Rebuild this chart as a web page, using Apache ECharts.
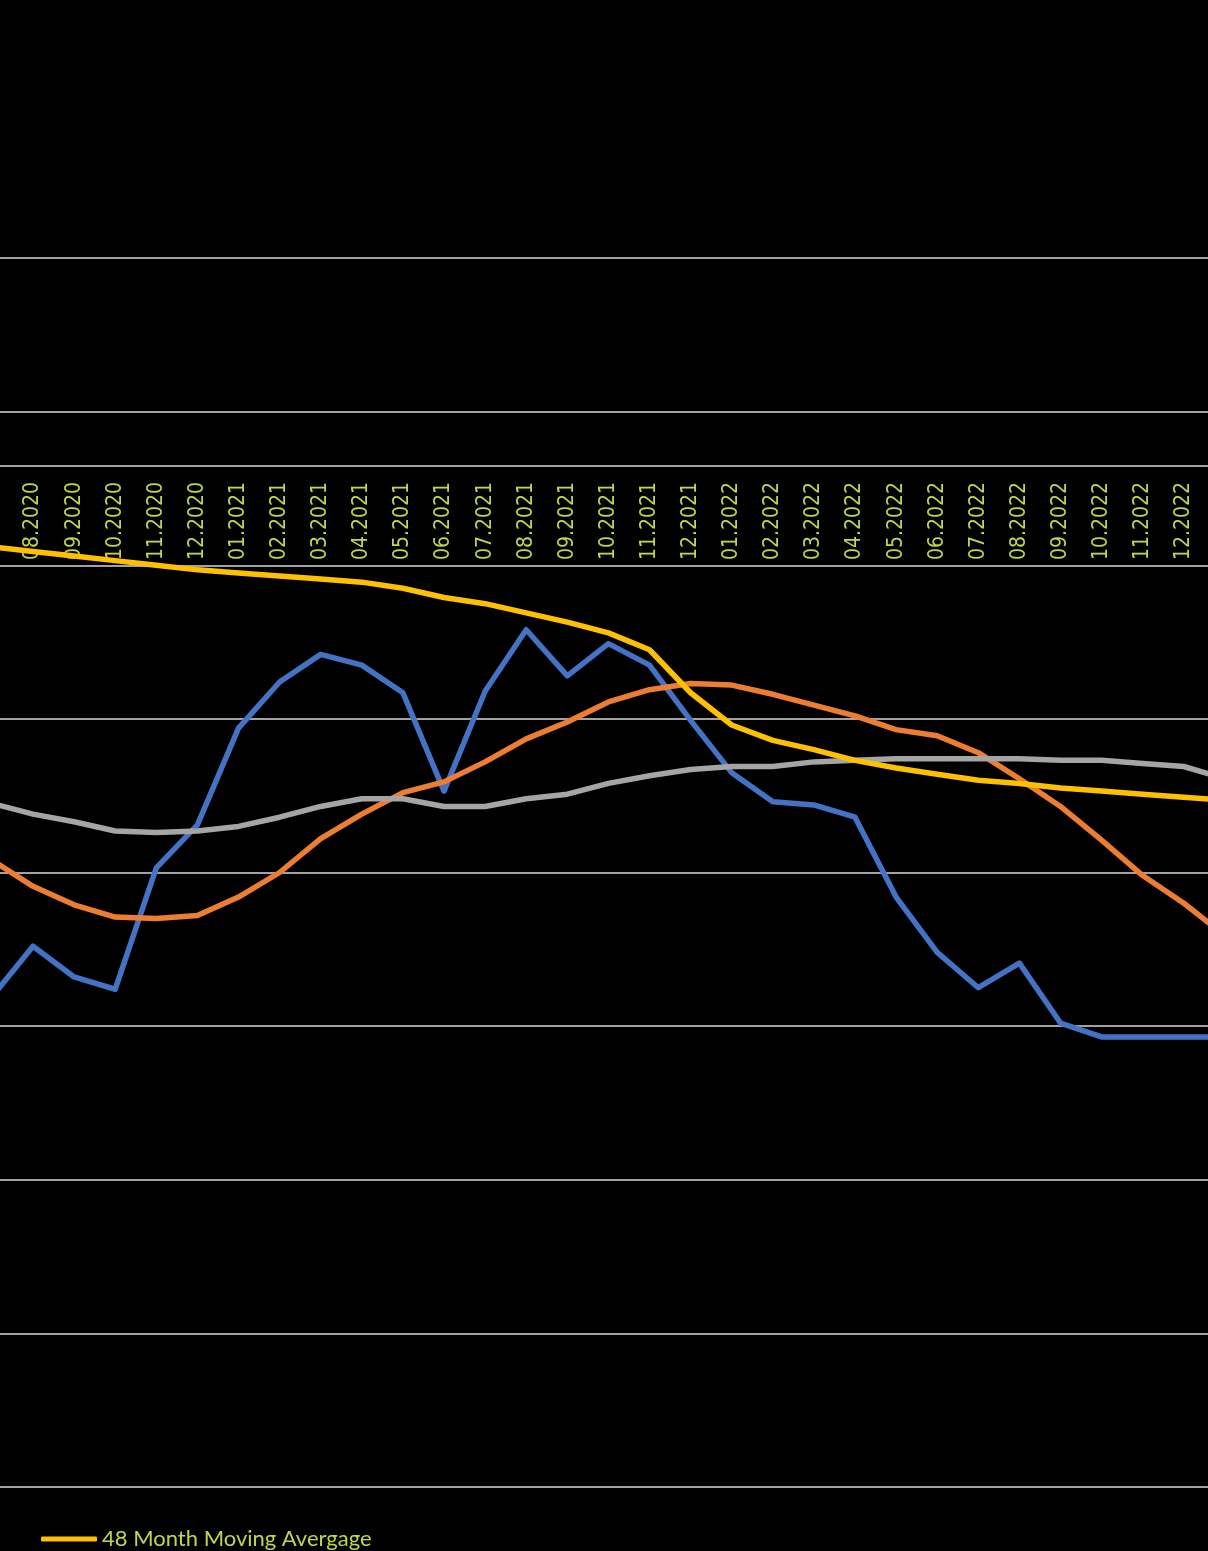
<!DOCTYPE html>
<html>
<head>
<meta charset="utf-8">
<script src="https://cdn.jsdelivr.net/npm/echarts@6/dist/echarts.min.js"></script>
<style>
html,body{margin:0;padding:0;background:#000;}
#chart{width:1208px;height:1551px;}
</style>
</head>
<body>
<div id="chart"></div>
<script>
const categories = ['07.2020','08.2020','09.2020','10.2020','11.2020','12.2020',
  '01.2021','02.2021','03.2021','04.2021','05.2021','06.2021','07.2021','08.2021','09.2021','10.2021','11.2021','12.2021',
  '01.2022','02.2022','03.2022','04.2022','05.2022','06.2022','07.2022','08.2022','09.2022','10.2022','11.2022','12.2022',
  '01.2023'];

const monthlyValues = [3.19,3.52,3.32,3.24,4.03,4.31,4.94,5.24,5.42,5.35,5.17,4.53,5.18,5.58,5.28,5.49,5.35,4.99,
  4.65,4.46,4.44,4.36,3.84,3.48,3.25,3.41,3.02,2.93,2.93,2.93,2.93];

const avg12Values = [4.08,3.91,3.79,3.71,3.70,3.72,3.84,4.00,4.22,4.38,4.52,4.59,4.72,4.87,4.98,5.11,5.19,5.23,
  5.22,5.16,5.09,5.02,4.93,4.89,4.78,4.61,4.43,4.21,3.98,3.80,3.59];

const avg24Values = [4.45,4.38,4.33,4.27,4.26,4.27,4.30,4.36,4.43,4.48,4.48,4.43,4.43,4.48,4.51,4.58,4.63,4.67,
  4.69,4.69,4.72,4.73,4.74,4.74,4.74,4.74,4.73,4.73,4.71,4.69,4.61];

const avg48Values = [6.12,6.09,6.06,6.03,6.00,5.97,5.95,5.93,5.91,5.89,5.85,5.79,5.75,5.69,5.63,5.56,5.45,5.17,
  4.96,4.86,4.80,4.73,4.68,4.64,4.60,4.58,4.55,4.53,4.51,4.49,4.47];

const seriesNames = ['Monthly', '12 Month Moving Average', '24 Month Moving Average', '48 Month Moving Avergage'];
const legendItems = ['48 Month Moving Avergage'];

const labelColor = '#C3D450';
const gridColor = '#D9D9D9';

const chart = echarts.init(document.getElementById('chart'), null, {renderer:'canvas'});

function lineSeries(name, data, color) {
  return {
    name: name, type: 'line', data: data,
    symbol: 'none', showSymbol: false, smooth: false,
    lineStyle: {color: color, width: 5.5, cap: 'round', join: 'round'},
    itemStyle: {color: color},
    emphasis: {disabled: true}
  };
}

chart.setOption({
  backgroundColor: '#000000',
  animation: false,
  grid: {left: -8.1, right: -16.9, top: 258, bottom: 64, containLabel: false, outerBoundsMode: 'none'},
  legend: {
    data: legendItems,
    left: 41, top: 1528, padding: 0,
    icon: 'roundRect', itemWidth: 56, itemHeight: 5,
    textStyle: {color: labelColor, fontFamily: 'Lato', fontSize: 22, lineHeight: 22}
  },
  xAxis: {
    type: 'category', data: categories, boundaryGap: false,
    offset: -1021,
    axisLine: {show: true, onZero: false, lineStyle: {color: gridColor, width: 1.5}},
    axisTick: {show: false},
    splitLine: {show: false},
    axisLabel: {
      rotate: 90, color: labelColor,
      fontFamily: "'DejaVu Sans Condensed', 'DejaVu Sans'", fontSize: 21,
      margin: 16, padding: [5, 0, 0, 0],
      interval: function (index) { return index > 0 && index < categories.length - 1; }
    }
  },
  yAxis: {
    type: 'value', min: 0, max: 8, interval: 1,
    axisLabel: {show: false}, axisLine: {show: false}, axisTick: {show: false},
    splitLine: {lineStyle: {color: gridColor, width: 1.5}}
  },
  series: [
    lineSeries(seriesNames[0], monthlyValues, '#4472C4'),
    lineSeries(seriesNames[1], avg12Values, '#ED7D31'),
    lineSeries(seriesNames[2], avg24Values, '#A5A5A5'),
    lineSeries(seriesNames[3], avg48Values, '#FFC000')
  ]
});
</script>
</body>
</html>
